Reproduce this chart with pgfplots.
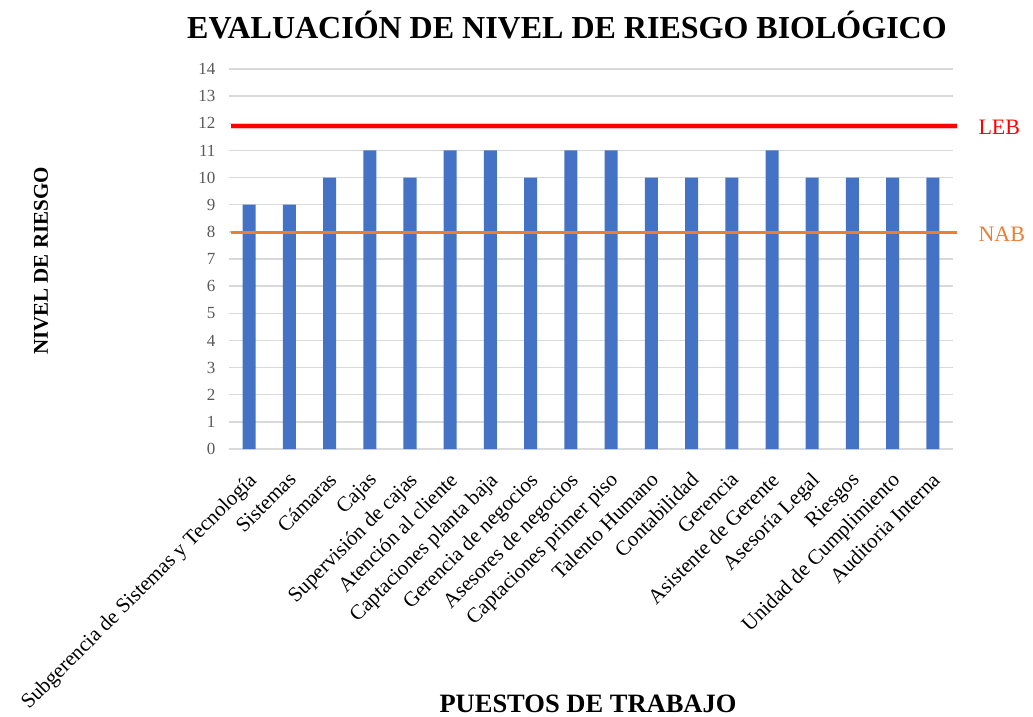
\documentclass[border=0pt]{standalone}
\usepackage{pgfplots}
\pgfplotsset{compat=1.18}
\usepackage{fontspec}
\setmainfont{Liberation Serif}
\definecolor{barblue}{HTML}{4472C4}
\definecolor{gridgray}{HTML}{D9D9D9}
\definecolor{ticktext}{HTML}{595959}
\definecolor{nabor}{HTML}{ED7D31}
\definecolor{lebred}{HTML}{FF0000}
\begin{document}
\begin{tikzpicture}
\begin{axis}[
  scale only axis,
  width=724pt, height=380pt,
  xmin=-0.5, xmax=17.5,
  ymin=0, ymax=14,
  ytick={0,1,...,14},
  xtick={0,1,...,17},
  xticklabels={Subgerencia de Sistemas y Tecnología, Sistemas, Cámaras, Cajas, Supervisión de cajas, Atención al cliente, Captaciones planta baja, Gerencia de negocios, Asesores de negocios, Captaciones primer piso, Talento Humano, Contabilidad, Gerencia, Asistente de Gerente, Asesoría Legal, Riesgos, Unidad de Cumplimiento, Auditoria Interna},
  xticklabel style={rotate=45, anchor=north east, font=\fontsize{21pt}{23pt}\selectfont, text=black, inner sep=1pt, xshift=-16pt, yshift=-13pt},
  yticklabel style={font=\fontsize{17pt}{19pt}\selectfont, text=ticktext, xshift=-10pt},
  /pgf/number format/assume math mode=true,
  axis line style={draw=none},
  major tick length=0pt,
  ymajorgrids,
  grid style={gridgray, line width=1.5pt},
  clip=false,
]
\addplot[ybar, bar width=13pt, fill=barblue, draw=none] coordinates {
(0,9) (1,9) (2,10) (3,11) (4,10) (5,11) (6,11) (7,10) (8,11)
(9,11) (10,10) (11,10) (12,10) (13,11) (14,10) (15,10) (16,10) (17,10)};
\addplot[lebred!25, line width=6pt, forget plot] coordinates {(-0.45,11.9) (17.6,11.9)};
\addplot[lebred, line width=3.5pt] coordinates {(-0.45,11.9) (17.6,11.9)};
\addplot[nabor, line width=3pt] coordinates {(-0.45,7.97) (17.6,7.97)};
\node[anchor=west, text=lebred, font=\fontsize{22pt}{24pt}\selectfont] at (axis cs:17.5,11.85) [xshift=22pt] {LEB};
\node[anchor=west, text=nabor, font=\fontsize{22pt}{24pt}\selectfont] at (axis cs:17.5,7.92) [xshift=22pt] {NAB};
\node[font=\fontsize{32pt}{35pt}\selectfont\bfseries] at (rel axis cs:0.5,1) [xshift=-24pt, yshift=44pt] {EVALUACIÓN DE NIVEL DE RIESGO BIOLÓGICO};
\node[font=\fontsize{26.5pt}{29pt}\selectfont\bfseries] at (rel axis cs:0.5,0) [xshift=-3pt, yshift=-255pt] {PUESTOS DE TRABAJO};
\node[font=\fontsize{21pt}{24pt}\selectfont\bfseries, rotate=90] at (rel axis cs:0,0.5) [xshift=-2pt, yshift=188pt] {NIVEL DE RIESGO};
\coordinate (sw) at (rel axis cs:0,0);
\end{axis}
\pgfresetboundingbox
\path ([xshift=-229pt,yshift=-268pt]sw) rectangle ++(1033pt,717pt);
\end{tikzpicture}
\end{document}
